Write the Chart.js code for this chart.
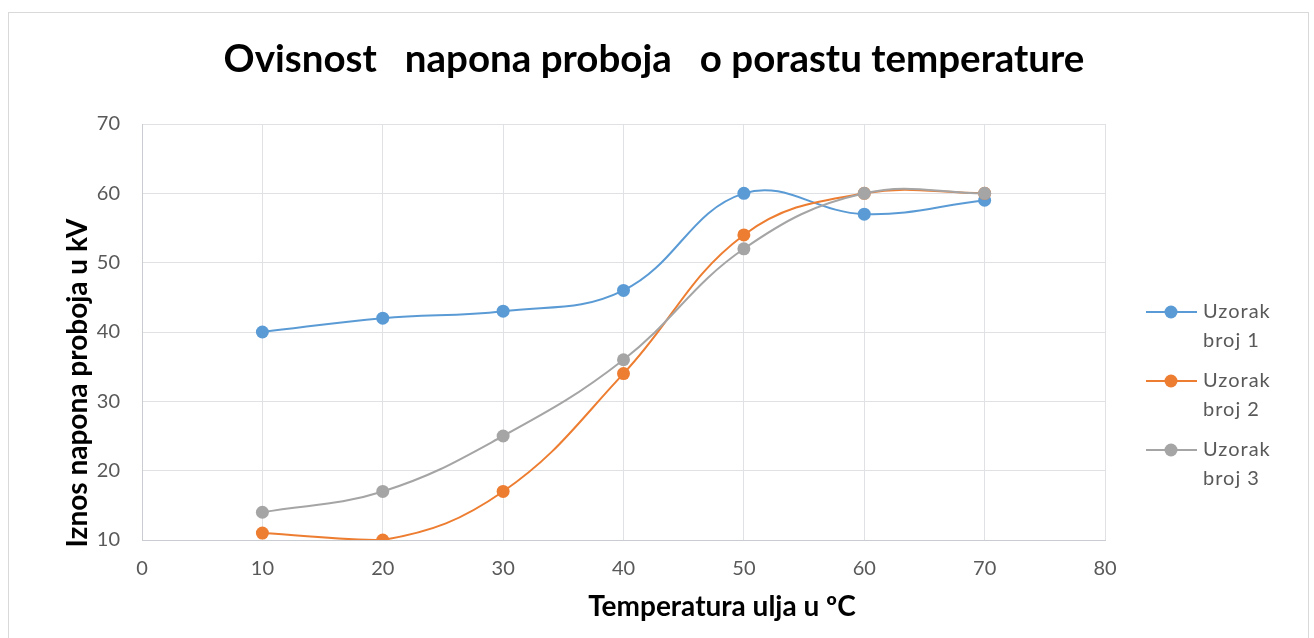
<!DOCTYPE html>
<html>
<head>
<meta charset="utf-8">
<script src="https://cdn.jsdelivr.net/npm/chart.js@4"></script>
<style>
  html, body { margin: 0; padding: 0; background: #ffffff; }
  #wrap { position: absolute; left: 0; top: 0; width: 1314px; height: 638px; }
</style>
</head>
<body>
<div id="wrap"><canvas id="c" width="1314" height="638"></canvas></div>
<script>
const temperatures = [10, 20, 30, 40, 50, 60, 70];
const uzorak1 = [40, 42, 43, 46, 60, 57, 59];
const uzorak2 = [11, 10, 17, 34, 54, 60, 60];
const uzorak3 = [14, 17, 25, 36, 52, 60, 60];
const seriesNames = ['Uzorak broj 1', 'Uzorak broj 2', 'Uzorak broj 3'];
const seriesColors = ['#5b9bd5', '#ed7d31', '#a5a5a5'];
const chartTitle = 'Ovisnost   napona proboja   o porastu temperature';
const xTitle = 'Temperatura ulja u ºC';
const yTitle = 'Iznos napona proboja u kV';

const FONT = 'Lato, "Open Sans", sans-serif';

function toPoints(vals) { return temperatures.map((t, i) => ({ x: t, y: vals[i] })); }

const frame = {
  id: 'frame',
  beforeDraw(chart) {
    const ctx = chart.ctx;
    ctx.save();
    ctx.strokeStyle = '#d9d9d9';
    ctx.lineWidth = 1;
    ctx.strokeRect(8.5, 12.5, 1300, 640);
    ctx.restore();
  }
};

const titles = {
  id: 'titles',
  afterDraw(chart) {
    const ctx = chart.ctx;
    ctx.save();
    ctx.fillStyle = '#000000';
    ctx.textAlign = 'center';
    ctx.textBaseline = 'middle';
    ctx.font = 'bold 38.5px ' + FONT;
    ctx.fillText(chartTitle, 654, 60);
    ctx.font = 'bold 28px ' + FONT;
    ctx.fillText(xTitle, 722, 607);
    ctx.translate(78, 383);
    ctx.rotate(-Math.PI / 2);
    ctx.fillText(yTitle, 0, 0);
    ctx.restore();
  }
};

const sideLegend = {
  id: 'sideLegend',
  afterDraw(chart) {
    const ctx = chart.ctx;
    const rowY = [312, 381, 450];
    ctx.save();
    chart.data.datasets.forEach((ds, i) => {
      const y = rowY[i];
      ctx.strokeStyle = ds.borderColor;
      ctx.lineWidth = 2;
      ctx.beginPath();
      ctx.moveTo(1146, y);
      ctx.lineTo(1197, y);
      ctx.stroke();
      ctx.fillStyle = ds.backgroundColor;
      ctx.beginPath();
      ctx.arc(1171, y, 6.5, 0, Math.PI * 2);
      ctx.fill();
      ctx.fillStyle = '#595959';
      ctx.font = '20px ' + FONT;
      if ('letterSpacing' in ctx) ctx.letterSpacing = '1px';
      ctx.textBaseline = 'middle';
      ctx.textAlign = 'left';
      const words = ds.label.split(' ');
      ctx.fillText(words[0], 1203, y);
      ctx.fillText(words.slice(1).join(' '), 1203, y + 29);
    });
    ctx.restore();
  }
};

new Chart(document.getElementById('c'), {
  type: 'line',
  data: {
    datasets: [uzorak1, uzorak2, uzorak3].map((vals, i) => ({
      label: seriesNames[i],
      data: toPoints(vals),
      order: 3 - i,
      borderColor: seriesColors[i],
      backgroundColor: seriesColors[i],
      pointBackgroundColor: seriesColors[i],
      pointBorderColor: seriesColors[i],
      pointRadius: 6.5,
      pointHoverRadius: 6.5,
      pointBorderWidth: 0,
      borderWidth: 2,
      tension: 0.4,
      fill: false
    }))
  },
  options: {
    responsive: false,
    animation: false,
    devicePixelRatio: 1,
    layout: { padding: { left: 0, right: 209, top: 124, bottom: 0 } },
    plugins: {
      legend: { display: false },
      tooltip: { enabled: false },
      title: { display: false }
    },
    scales: {
      x: {
        type: 'linear',
        min: 0,
        max: 80,
        afterFit(scale) { scale.height = 98; },
        ticks: { stepSize: 10, color: '#595959', padding: 17, font: { family: FONT, size: 20 } },
        grid: { color: '#dfe1e5', lineWidth: 1, drawTicks: false },
        border: { color: '#c9ccd1', width: 1 },
        title: { display: false }
      },
      y: {
        type: 'linear',
        min: 10,
        max: 70,
        afterFit(scale) { scale.width = 142; },
        ticks: { stepSize: 10, color: '#595959', padding: 22, font: { family: FONT, size: 20 } },
        grid: { color: '#dfe1e5', lineWidth: 1, drawTicks: false },
        border: { color: '#c9ccd1', width: 1 },
        title: { display: false }
      }
    }
  },
  plugins: [frame, titles, sideLegend]
});
</script>
</body>
</html>
